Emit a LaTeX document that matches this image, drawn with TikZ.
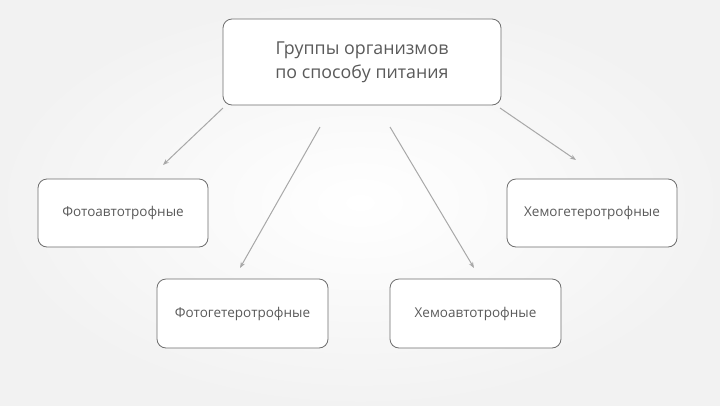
\documentclass[tikz,border=0pt]{standalone}
\usepackage{fontspec}
\setmainfont{Open Sans}
\usetikzlibrary{arrows.meta,shadows}
\definecolor{boxline}{HTML}{6E6E6E}
\definecolor{txt}{HTML}{5A5A5A}
\definecolor{arr}{HTML}{A8A8A8}
\begin{document}
\begin{tikzpicture}[x=1pt,y=-1pt,
  box/.style={draw=boxline,line width=0.8pt,fill=white,rounded corners=9pt,
    text=txt,align=center,inner sep=0pt},
  small/.style={font=\fontsize{13.5}{16}\selectfont},
  conn/.style={draw=arr,line width=1pt,-{Stealth[length=6pt,width=4.5pt]}}]
\shade[inner color=white,outer color=black!5] (0,0) rectangle (720,405);
\useasboundingbox (0,0) rectangle (720,405);
\node[box,minimum width=278pt,minimum height=86pt,font=\fontsize{17.8}{24}\selectfont] (top) at (362,62) {Группы организмов\\по способу питания};
\node[box,small,minimum width=170pt,minimum height=68pt] (fa) at (123,213) {Фотоавтотрофные};
\node[box,small,minimum width=171pt,minimum height=69pt] (fg) at (242.5,313.5) {Фотогетеротрофные};
\node[box,small,minimum width=171pt,minimum height=69pt] (xa) at (475.5,313.5) {Хемоавтотрофные};
\node[box,small,minimum width=170pt,minimum height=68pt] (xg) at (592,213) {Хемогетеротрофные};
\coordinate (s1) at (223,108); \coordinate (e1) at (163,165);
\coordinate (s2) at (320,127); \coordinate (e2) at (240,268);
\coordinate (s3) at (390,127); \coordinate (e3) at (474,268);
\coordinate (s4) at (500,108); \coordinate (e4) at (576,160);
\draw[conn] (s1) -- (e1);
\draw[conn] (s2) -- (e2);
\draw[conn] (s3) -- (e3);
\draw[conn] (s4) -- (e4);
\end{tikzpicture}
\end{document}
